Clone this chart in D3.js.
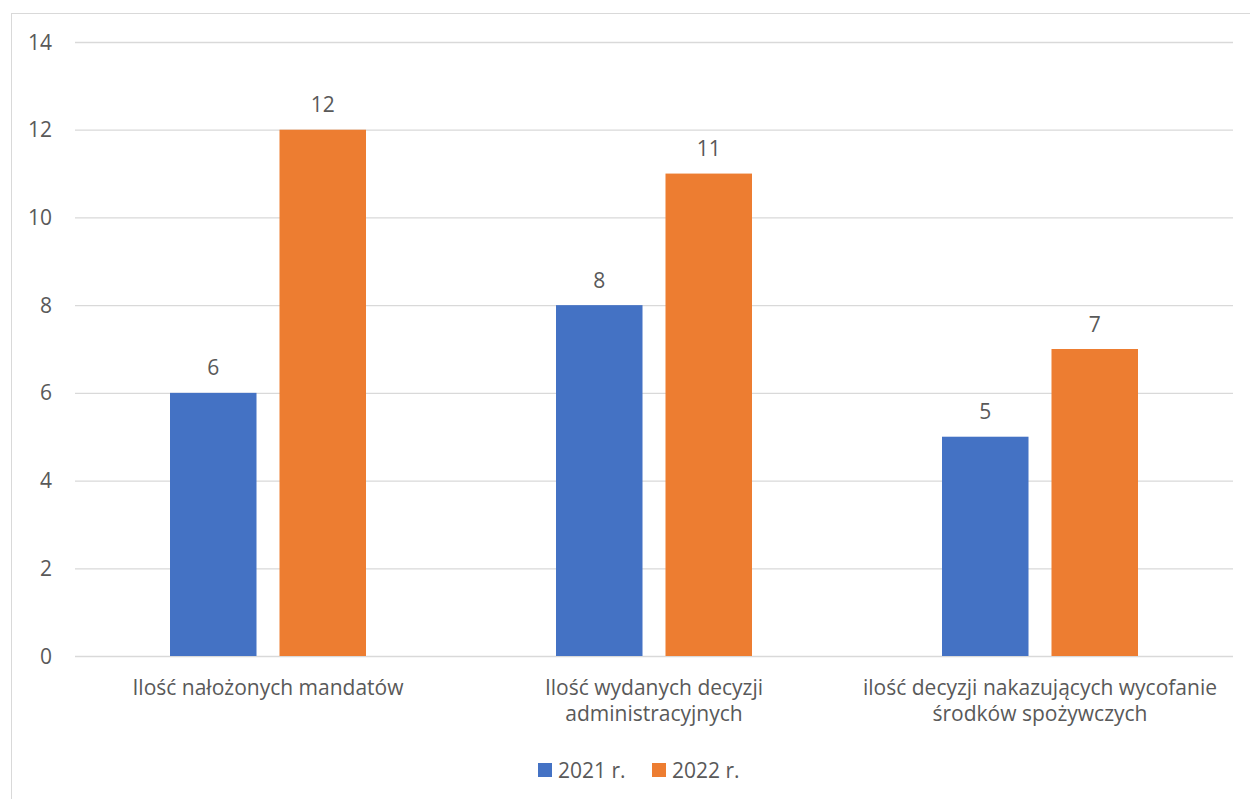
<!DOCTYPE html>
<html>
<head>
<meta charset="utf-8">
<script src="https://cdn.jsdelivr.net/npm/d3@7"></script>
<style>
  body { margin: 0; background: #fff; }
  text { font-family: "Open Sans", "Noto Sans", sans-serif; fill: #595959; }
</style>
</head>
<body>
<div id="chart"></div>
<script>
const categories = [
  ["Ilość nałożonych mandatów"],
  ["Ilość wydanych decyzji", "administracyjnych"],
  ["ilość decyzji nakazujących wycofanie", "środków spożywczych"]
];
const seriesNames = ["2021 r.", "2022 r."];
const values2021 = [6, 8, 5];
const values2022 = [12, 11, 7];
const yTicks = [0, 2, 4, 6, 8, 10, 12, 14];
const colors = ["#4472c4", "#ed7d31"];

const w = 1250, h = 799;
const plotLeft = 75, plotRight = 1233, plotTop = 42, plotBottom = 656;
const fs = 21;

const svg = d3.select("#chart").append("svg")
  .attr("width", w).attr("height", h);

// outer frame
svg.append("rect")
  .attr("x", 11.5).attr("y", 13.5)
  .attr("width", w + 10).attr("height", h + 10)
  .attr("fill", "none").attr("stroke", "#d9d9d9");

const idx = categories.map((d, i) => i);
const x0 = d3.scaleBand().domain(idx).range([plotLeft, plotRight]);
const x1 = d3.scaleBand().domain([0, 1]).range([95, 291]).paddingInner(0.21);
const y = d3.scaleLinear().domain([0, 14]).range([plotBottom, plotTop]);

// gridlines
svg.append("g").selectAll("line").data(yTicks).enter().append("line")
  .attr("x1", plotLeft).attr("x2", plotRight)
  .attr("y1", d => y(d) + 0.5).attr("y2", d => y(d) + 0.5)
  .attr("stroke", "#d9d9d9").attr("stroke-width", 1.3);

// y tick labels
svg.append("g").selectAll("text").data(yTicks).enter().append("text")
  .attr("x", 52).attr("y", d => y(d))
  .attr("dy", "0.36em")
  .attr("text-anchor", "end")
  .attr("font-size", fs)
  .text(d => d);

const data = idx.map(i => [values2021[i], values2022[i]]);

const groups = svg.append("g").selectAll("g").data(data).enter().append("g")
  .attr("transform", (d, i) => "translate(" + x0(i) + ",0)");

groups.selectAll("rect").data(d => d).enter().append("rect")
  .attr("x", (d, j) => x1(j))
  .attr("width", x1.bandwidth())
  .attr("y", d => y(d))
  .attr("height", d => y(0) - y(d))
  .attr("fill", (d, j) => colors[j]);

groups.selectAll("text.val").data(d => d).enter().append("text")
  .attr("class", "val")
  .attr("x", (d, j) => x1(j) + x1.bandwidth() / 2)
  .attr("y", d => y(d) - 25)
  .attr("dy", "0.36em")
  .attr("text-anchor", "middle")
  .attr("font-size", fs)
  .text(d => d);

// category labels
const cat = svg.append("g").selectAll("text").data(categories).enter().append("text")
  .attr("x", (d, i) => x0(i) + x0.bandwidth() / 2)
  .attr("y", 695)
  .attr("text-anchor", "middle")
  .attr("font-size", fs);
cat.selectAll("tspan").data(d => d).enter().append("tspan")
  .attr("x", function () { return this.parentNode.getAttribute("x"); })
  .attr("dy", (d, k) => k === 0 ? 0 : 25.5)
  .text(d => d);

// legend
const legendX = [538, 652];
const legend = svg.append("g").selectAll("g").data(seriesNames).enter().append("g")
  .attr("transform", (d, i) => "translate(" + legendX[i] + ",763)");
legend.append("rect").attr("width", 14).attr("height", 14)
  .attr("fill", (d, i) => colors[i]);
legend.append("text").attr("x", 20).attr("y", 7).attr("dy", "0.36em")
  .attr("font-size", fs).text(d => d);
</script>
</body>
</html>
